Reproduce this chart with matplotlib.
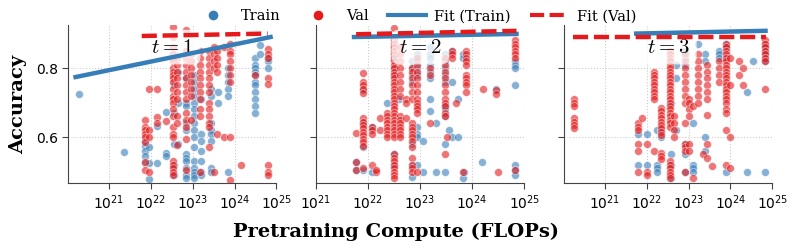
import numpy as np
import matplotlib
matplotlib.use('Agg')
import matplotlib.pyplot as plt
from matplotlib.ticker import MultipleLocator, LogLocator, NullLocator
from matplotlib.lines import Line2D

plt.rcParams['mathtext.fontset'] = 'cm'

blue = '#377eb8'
red = '#e41a1c'

# ---- data: log10(FLOPs) columns and accuracies per column ----
# t = 1
t1_train_logc = [20.27, 21.36, 21.85, 21.95, 22.15, 22.35, 22.55, 22.65, 22.85, 23.02,
                 23.2, 23.43, 23.6, 23.85, 24.48, 24.6, 24.79]
t1_train_acc = [[0.724], [0.557], [0.59, 0.575, 0.56, 0.545, 0.525], [0.478, 0.525, 0.57],
                [0.632, 0.525], [0.673, 0.553, 0.545], [0.58, 0.67, 0.75, 0.52, 0.49],
                [0.58, 0.79, 0.70],
                [0.77, 0.70, 0.69, 0.64, 0.62, 0.55, 0.54, 0.53, 0.51, 0.49, 0.48],
                [0.78, 0.76, 0.74, 0.72, 0.70, 0.68, 0.66, 0.64, 0.62, 0.60, 0.57, 0.53,
                 0.51, 0.50, 0.49, 0.48],
                [0.71, 0.61, 0.59, 0.56, 0.53, 0.50, 0.49],
                [0.74, 0.72, 0.64, 0.62, 0.61, 0.59, 0.51, 0.50], [0.73, 0.70],
                [0.80, 0.78, 0.76, 0.74, 0.72, 0.50],
                [0.83, 0.81, 0.80, 0.79, 0.78, 0.76, 0.75, 0.73, 0.71, 0.69, 0.67],
                [0.867, 0.84], [0.83, 0.82, 0.80]]
t1_val_logc = [21.85, 21.95, 22.15, 22.35, 22.53, 22.62, 22.85, 22.95, 23.17, 23.4,
               23.5, 23.57, 23.75, 23.88, 24.15, 24.48, 24.79]
t1_val_acc = [[0.65, 0.63, 0.62, 0.61, 0.60, 0.585, 0.528, 0.504], [0.74, 0.62, 0.60, 0.50],
              [0.739, 0.659, 0.641], [0.647],
              [0.92, 0.89, 0.86, 0.84, 0.83, 0.82, 0.80, 0.79, 0.78, 0.77, 0.76, 0.74, 0.72,
               0.71, 0.70, 0.68, 0.66, 0.63, 0.61, 0.60, 0.53, 0.52, 0.51, 0.50, 0.49],
              [0.83, 0.81, 0.79, 0.77, 0.75, 0.73, 0.71, 0.66, 0.64, 0.577],
              [0.91, 0.85, 0.83, 0.81, 0.79, 0.77, 0.75, 0.73, 0.71, 0.67, 0.65, 0.63,
               0.594, 0.505],
              [0.84, 0.82, 0.80, 0.78, 0.76, 0.74, 0.72, 0.65],
              [0.85, 0.83, 0.81, 0.79, 0.77, 0.75, 0.73, 0.71, 0.68, 0.66, 0.50],
              [0.85, 0.83, 0.81, 0.79, 0.77, 0.75, 0.73, 0.70, 0.68, 0.66, 0.64, 0.63, 0.57],
              [0.86, 0.84, 0.82, 0.80, 0.50], [0.85, 0.83, 0.81, 0.79, 0.61], [0.86, 0.60],
              [0.87, 0.85, 0.84, 0.82, 0.80, 0.78, 0.76, 0.60, 0.475], [0.52], [0.78],
              [0.855, 0.84, 0.83, 0.77, 0.755, 0.52, 0.50, 0.49]]

# t = 2
t2_train_logc = [21.76, 21.9, 22.07, 22.37, 22.5, 22.6, 22.85, 22.94, 23.05, 23.19, 23.3,
                 23.48, 23.55, 23.62, 23.72, 23.82, 23.85, 24.18, 24.45, 24.83]
t2_train_acc = [[0.528, 0.504], [0.736, 0.64, 0.57, 0.504], [0.63, 0.50], [0.70],
                [0.86, 0.83, 0.80, 0.78, 0.55, 0.52], [0.71],
                [0.82, 0.80, 0.78, 0.76, 0.58, 0.52, 0.485],
                [0.84, 0.82, 0.80, 0.78, 0.63, 0.61, 0.60, 0.52], [0.59, 0.50],
                [0.86, 0.84, 0.83, 0.81, 0.79, 0.77, 0.71, 0.675], [0.64, 0.50],
                [0.84, 0.82, 0.80, 0.78, 0.76, 0.69, 0.68, 0.66, 0.58, 0.50], [0.62],
                [0.85, 0.76, 0.60], [0.71, 0.60], [0.84, 0.83, 0.48], [0.50], [0.528],
                [0.74], [0.82, 0.81, 0.80, 0.75, 0.52, 0.505, 0.49]]
t2_val_logc = [21.76, 21.9, 22.07, 22.15, 22.22, 22.37, 22.5, 22.62, 22.72, 22.85, 22.94,
               23.19, 23.48, 23.52, 23.62, 23.68, 23.82, 23.88, 24.2, 24.45, 24.5, 24.83]
t2_val_acc = [[0.611, 0.528, 0.505],
              [0.785, 0.76, 0.75, 0.74, 0.727, 0.655, 0.645, 0.635, 0.625, 0.615, 0.605,
               0.595, 0.585, 0.575, 0.51],
              [0.63, 0.62, 0.61, 0.52], [0.50, 0.505], [0.655, 0.62],
              [0.67, 0.66, 0.65, 0.64, 0.63, 0.62, 0.61, 0.60],
              [0.915, 0.88, 0.87, 0.86, 0.85, 0.84, 0.83, 0.82, 0.81, 0.80, 0.79, 0.78, 0.77,
               0.76, 0.75, 0.74, 0.73, 0.72, 0.71, 0.70, 0.69, 0.68, 0.67, 0.66, 0.65, 0.64,
               0.63, 0.62, 0.61, 0.60, 0.55, 0.54, 0.53, 0.52, 0.51, 0.50, 0.49, 0.48],
              [0.86, 0.84, 0.82, 0.80, 0.78, 0.76, 0.74, 0.72, 0.66, 0.65, 0.64, 0.63, 0.62,
               0.61, 0.60],
              [0.71, 0.70, 0.655],
              [0.80, 0.79, 0.77, 0.75, 0.73, 0.71, 0.64, 0.63, 0.62, 0.61, 0.60, 0.59, 0.57,
               0.54, 0.52, 0.51, 0.50],
              [0.83, 0.81, 0.79, 0.77, 0.75, 0.73, 0.71, 0.70, 0.69, 0.68, 0.67, 0.50],
              [0.80, 0.78, 0.64],
              [0.83, 0.81, 0.79, 0.77, 0.75, 0.73, 0.71, 0.70, 0.69, 0.67, 0.66, 0.55],
              [0.60], [0.85, 0.84, 0.83], [0.70], [0.50],
              [0.85, 0.84, 0.83, 0.82, 0.81, 0.78, 0.77, 0.76, 0.75, 0.73], [0.74],
              [0.735, 0.725], [0.50], [0.88, 0.87, 0.86, 0.85, 0.84, 0.83, 0.505]]

# t = 3
t3_train_logc = [21.8, 22.0, 22.25, 22.35, 22.57, 22.7, 22.92, 23.1, 23.23, 23.4, 23.73,
                 23.9, 24.4, 24.55, 24.82]
t3_train_acc = [[0.61, 0.52], [0.61, 0.52], [0.62, 0.52, 0.51, 0.50], [0.62, 0.60],
                [0.70, 0.55, 0.52, 0.48], [0.81, 0.77, 0.62],
                [0.85, 0.83, 0.81, 0.58, 0.55, 0.50], [0.64, 0.52, 0.51, 0.50], [0.87],
                [0.84, 0.82, 0.60, 0.56], [0.85, 0.84, 0.83], [0.87, 0.86, 0.83, 0.50],
                [0.73, 0.50], [0.82], [0.87, 0.86, 0.85, 0.84, 0.83, 0.82, 0.50]]
t3_val_logc = [20.26, 21.8, 21.88, 22.0, 22.18, 22.35, 22.55, 22.65, 22.92, 23.0, 23.1,
               23.23, 23.35, 23.45, 23.55, 23.73, 23.9, 24.0, 24.2, 24.3, 24.82]
t3_val_acc = [[0.71, 0.70, 0.69, 0.655, 0.645, 0.635, 0.625],
              [0.64, 0.63, 0.62, 0.58, 0.56, 0.50], [0.655], [0.58, 0.50, 0.49],
              [0.79, 0.78, 0.77, 0.76, 0.75, 0.74, 0.73, 0.72, 0.71, 0.56],
              [0.685, 0.675, 0.665, 0.655, 0.645, 0.635, 0.625, 0.615, 0.605, 0.555,
               0.545, 0.535],
              [0.85, 0.84, 0.83, 0.82, 0.81, 0.80, 0.79, 0.78, 0.77, 0.76, 0.75, 0.74,
               0.73, 0.72, 0.71, 0.70, 0.69, 0.68, 0.67, 0.66, 0.65, 0.64, 0.63, 0.53,
               0.52, 0.51, 0.50, 0.49, 0.48],
              [0.66, 0.64, 0.62, 0.60],
              [0.84, 0.82, 0.80, 0.78, 0.76, 0.74, 0.72, 0.70, 0.64, 0.58, 0.57, 0.56, 0.50],
              [0.71, 0.70, 0.68, 0.66, 0.58, 0.56], [0.69, 0.48],
              [0.84, 0.82, 0.80, 0.78, 0.76, 0.74, 0.72, 0.70], [0.55],
              [0.81, 0.79, 0.77, 0.75, 0.73, 0.71, 0.665, 0.58, 0.54], [0.515],
              [0.82, 0.80, 0.78, 0.76],
              [0.87, 0.86, 0.85, 0.84, 0.83, 0.82, 0.81, 0.80, 0.79, 0.78, 0.77, 0.76,
               0.75, 0.74, 0.73, 0.72, 0.71, 0.70, 0.68, 0.67, 0.62, 0.52],
              [0.83, 0.75, 0.60, 0.51], [0.82, 0.78], [0.80, 0.75],
              [0.88, 0.87, 0.86, 0.85, 0.84, 0.83, 0.82, 0.74]]

# fit lines: (log10 start, log10 end), (acc start, acc end)
fit_train_logc = [(20.2, 24.86), (21.73, 24.85), (21.75, 24.84)]
fit_train_acc = [(0.774, 0.89), (0.89, 0.899), (0.90, 0.908)]
fit_val_logc = [(21.78, 24.79), (21.77, 24.85), (20.24, 24.84)]
fit_val_acc = [(0.893, 0.90), (0.898, 0.908), (0.891, 0.891)]

panel_titles = [r'$t=1$', r'$t=2$', r'$t=3$']
xlims = [(1.05e20, 1e25), (1e21, 1e25), (1.05e20, 1e25)]

train_logc = [t1_train_logc, t2_train_logc, t3_train_logc]
train_acc = [t1_train_acc, t2_train_acc, t3_train_acc]
val_logc = [t1_val_logc, t2_val_logc, t3_val_logc]
val_acc = [t1_val_acc, t2_val_acc, t3_val_acc]

dash = (0, (3.4, 1.3))


def expand(logc, acc):
    xs, ys = [], []
    for c, col in zip(logc, acc):
        for a in col:
            xs.append(10 ** c)
            ys.append(a)
    return xs, ys


fig, axes = plt.subplots(1, 3, figsize=(7.92, 2.52), dpi=100, sharey=True)
fig.subplots_adjust(left=0.086, right=0.975, bottom=0.274, top=0.901, wspace=0.19)

for i, ax in enumerate(axes):
    tx, ty = expand(train_logc[i], train_acc[i])
    vx, vy = expand(val_logc[i], val_acc[i])
    ax.scatter(tx, ty, s=32, color=blue, alpha=0.6, edgecolor='white', linewidth=0.5, zorder=2)
    ax.scatter(vx, vy, s=32, color=red, alpha=0.6, edgecolor='white', linewidth=0.5, zorder=2)
    ax.plot([10 ** v for v in fit_train_logc[i]], fit_train_acc[i], color=blue, lw=3.2, zorder=5)
    ax.plot([10 ** v for v in fit_val_logc[i]], fit_val_acc[i], color=red, lw=3.2,
            ls=dash, zorder=5)
    ax.text(0.5, 0.86, panel_titles[i], transform=ax.transAxes, ha='center', va='center',
            fontsize=15, zorder=4,
            bbox=dict(boxstyle='round,pad=0.35', fc='white', ec='none', alpha=0.75))
    ax.set_xscale('log')
    ax.set_xlim(*xlims[i])
    ax.xaxis.set_major_locator(LogLocator(base=10, numticks=10))
    ax.xaxis.set_minor_locator(NullLocator())
    ax.set_ylim(0.467, 0.925)
    ax.yaxis.set_major_locator(MultipleLocator(0.2))
    ax.grid(True, ls=':', color='#cccccc', lw=0.8)
    ax.set_axisbelow(True)
    for s in ['top', 'right']:
        ax.spines[s].set_visible(False)
    for s in ['left', 'bottom']:
        ax.spines[s].set_color('#444444')
    ax.tick_params(axis='both', labelsize=10, color='#444444', length=4)

axes[0].set_ylabel('Accuracy', fontsize=14, fontweight='bold', family='DejaVu Serif',
                   labelpad=6)
fig.text(0.5, 0.08, 'Pretraining Compute (FLOPs)', ha='center', va='center',
         fontsize=14, fontweight='bold', family='DejaVu Serif')

handles = [
    Line2D([], [], marker='o', ls='none', color=blue, markersize=8, markeredgecolor='white'),
    Line2D([], [], marker='o', ls='none', color=red, markersize=8, markeredgecolor='white'),
    Line2D([], [], color=blue, lw=3),
    Line2D([], [], color=red, lw=3, ls=dash),
]
labels = ['Train', 'Val', 'Fit (Train)', 'Fit (Val)']
fig.legend(handles, labels, loc='center', bbox_to_anchor=(0.524, 0.935), ncol=4,
           frameon=False, prop={'family': 'DejaVu Serif', 'size': 10.5},
           handlelength=2.6, columnspacing=1.3, handletextpad=0.6)

fig.savefig('out.png', dpi=100)
